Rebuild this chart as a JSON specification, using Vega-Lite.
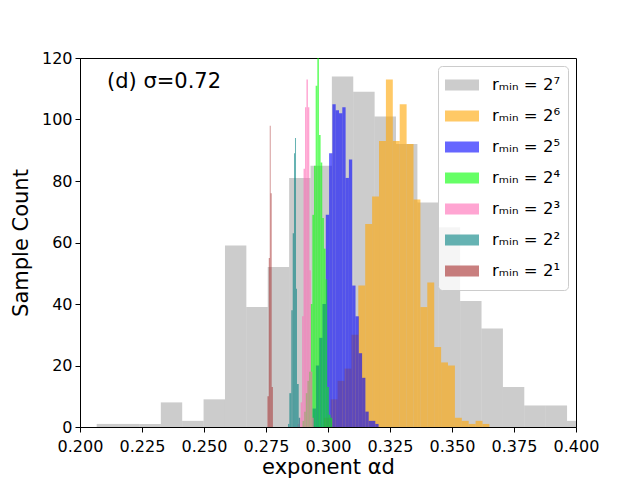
{
  "$schema": "https://vega.github.io/schema/vega-lite/v6.json",
  "description": "Histograms of the exponent alpha_d for several r_min, sigma = 0.72",
  "width": 496,
  "height": 369,
  "autosize": {"type": "none"},
  "padding": {"left": 80, "top": 58, "right": 64, "bottom": 53},
  "view": {"stroke": "black", "strokeWidth": 1},
  "config": {
    "font": "DejaVu Sans",
    "view": {"stroke": "black", "strokeWidth": 1},
    "axis": {
      "grid": false,
      "domainColor": "black",
      "tickColor": "black",
      "labelColor": "black",
      "titleColor": "black",
      "labelFontSize": 16,
      "titleFontSize": 21,
      "titleFontWeight": "normal",
      "tickSize": 5,
      "labelPadding": 3,
      "labelOverlap": false,
      "labelFlush": false,
      "offset": 0
    }
  },
  "data": {
    "values": [
      {"s": "rₘᵢₙ = 2⁷", "lo": 0.20673, "hi": 0.21535, "n": 1},
      {"s": "rₘᵢₙ = 2⁷", "lo": 0.21535, "hi": 0.22397, "n": 1},
      {"s": "rₘᵢₙ = 2⁷", "lo": 0.22397, "hi": 0.23259, "n": 1},
      {"s": "rₘᵢₙ = 2⁷", "lo": 0.23259, "hi": 0.24121, "n": 8},
      {"s": "rₘᵢₙ = 2⁷", "lo": 0.24121, "hi": 0.24983, "n": 2},
      {"s": "rₘᵢₙ = 2⁷", "lo": 0.24983, "hi": 0.25846, "n": 9},
      {"s": "rₘᵢₙ = 2⁷", "lo": 0.25846, "hi": 0.26708, "n": 59},
      {"s": "rₘᵢₙ = 2⁷", "lo": 0.26708, "hi": 0.27570, "n": 39},
      {"s": "rₘᵢₙ = 2⁷", "lo": 0.27570, "hi": 0.28432, "n": 52},
      {"s": "rₘᵢₙ = 2⁷", "lo": 0.28432, "hi": 0.29294, "n": 81},
      {"s": "rₘᵢₙ = 2⁷", "lo": 0.29294, "hi": 0.30156, "n": 85},
      {"s": "rₘᵢₙ = 2⁷", "lo": 0.30156, "hi": 0.31018, "n": 114},
      {"s": "rₘᵢₙ = 2⁷", "lo": 0.31018, "hi": 0.31880, "n": 109},
      {"s": "rₘᵢₙ = 2⁷", "lo": 0.31880, "hi": 0.32742, "n": 101},
      {"s": "rₘᵢₙ = 2⁷", "lo": 0.32742, "hi": 0.33605, "n": 92},
      {"s": "rₘᵢₙ = 2⁷", "lo": 0.33605, "hi": 0.34467, "n": 73},
      {"s": "rₘᵢₙ = 2⁷", "lo": 0.34467, "hi": 0.35329, "n": 65},
      {"s": "rₘᵢₙ = 2⁷", "lo": 0.35329, "hi": 0.36191, "n": 41},
      {"s": "rₘᵢₙ = 2⁷", "lo": 0.36191, "hi": 0.37053, "n": 32},
      {"s": "rₘᵢₙ = 2⁷", "lo": 0.37053, "hi": 0.37915, "n": 13},
      {"s": "rₘᵢₙ = 2⁷", "lo": 0.37915, "hi": 0.38777, "n": 7},
      {"s": "rₘᵢₙ = 2⁷", "lo": 0.38777, "hi": 0.39639, "n": 7},
      {"s": "rₘᵢₙ = 2⁷", "lo": 0.39639, "hi": 0.40501, "n": 2},

      {"s": "rₘᵢₙ = 2⁶", "lo": 0.29831, "hi": 0.30109, "n": 3},
      {"s": "rₘᵢₙ = 2⁶", "lo": 0.30109, "hi": 0.30387, "n": 9},
      {"s": "rₘᵢₙ = 2⁶", "lo": 0.30387, "hi": 0.30666, "n": 15},
      {"s": "rₘᵢₙ = 2⁶", "lo": 0.30666, "hi": 0.30944, "n": 19},
      {"s": "rₘᵢₙ = 2⁶", "lo": 0.30944, "hi": 0.31222, "n": 30},
      {"s": "rₘᵢₙ = 2⁶", "lo": 0.31222, "hi": 0.31500, "n": 46},
      {"s": "rₘᵢₙ = 2⁶", "lo": 0.31500, "hi": 0.31779, "n": 66},
      {"s": "rₘᵢₙ = 2⁶", "lo": 0.31779, "hi": 0.32057, "n": 75},
      {"s": "rₘᵢₙ = 2⁶", "lo": 0.32057, "hi": 0.32335, "n": 93},
      {"s": "rₘᵢₙ = 2⁶", "lo": 0.32335, "hi": 0.32613, "n": 113},
      {"s": "rₘᵢₙ = 2⁶", "lo": 0.32613, "hi": 0.32891, "n": 93},
      {"s": "rₘᵢₙ = 2⁶", "lo": 0.32891, "hi": 0.33170, "n": 105},
      {"s": "rₘᵢₙ = 2⁶", "lo": 0.33170, "hi": 0.33448, "n": 92},
      {"s": "rₘᵢₙ = 2⁶", "lo": 0.33448, "hi": 0.33726, "n": 74},
      {"s": "rₘᵢₙ = 2⁶", "lo": 0.33726, "hi": 0.34004, "n": 39},
      {"s": "rₘᵢₙ = 2⁶", "lo": 0.34004, "hi": 0.34283, "n": 47},
      {"s": "rₘᵢₙ = 2⁶", "lo": 0.34283, "hi": 0.34561, "n": 26},
      {"s": "rₘᵢₙ = 2⁶", "lo": 0.34561, "hi": 0.34839, "n": 21},
      {"s": "rₘᵢₙ = 2⁶", "lo": 0.34839, "hi": 0.35117, "n": 20},
      {"s": "rₘᵢₙ = 2⁶", "lo": 0.35117, "hi": 0.35396, "n": 3},
      {"s": "rₘᵢₙ = 2⁶", "lo": 0.35396, "hi": 0.35674, "n": 2},
      {"s": "rₘᵢₙ = 2⁶", "lo": 0.35674, "hi": 0.35952, "n": 1},
      {"s": "rₘᵢₙ = 2⁶", "lo": 0.35952, "hi": 0.36230, "n": 2},
      {"s": "rₘᵢₙ = 2⁶", "lo": 0.36230, "hi": 0.36508, "n": 1},

      {"s": "rₘᵢₙ = 2⁵", "lo": 0.29379, "hi": 0.29512, "n": 6},
      {"s": "rₘᵢₙ = 2⁵", "lo": 0.29512, "hi": 0.29645, "n": 20},
      {"s": "rₘᵢₙ = 2⁵", "lo": 0.29645, "hi": 0.29778, "n": 29},
      {"s": "rₘᵢₙ = 2⁵", "lo": 0.29778, "hi": 0.29911, "n": 40},
      {"s": "rₘᵢₙ = 2⁵", "lo": 0.29911, "hi": 0.30044, "n": 69},
      {"s": "rₘᵢₙ = 2⁵", "lo": 0.30044, "hi": 0.30177, "n": 89},
      {"s": "rₘᵢₙ = 2⁵", "lo": 0.30177, "hi": 0.30310, "n": 105},
      {"s": "rₘᵢₙ = 2⁵", "lo": 0.30310, "hi": 0.30444, "n": 103},
      {"s": "rₘᵢₙ = 2⁵", "lo": 0.30444, "hi": 0.30577, "n": 102},
      {"s": "rₘᵢₙ = 2⁵", "lo": 0.30577, "hi": 0.30710, "n": 104},
      {"s": "rₘᵢₙ = 2⁵", "lo": 0.30710, "hi": 0.30843, "n": 81},
      {"s": "rₘᵢₙ = 2⁵", "lo": 0.30843, "hi": 0.30976, "n": 87},
      {"s": "rₘᵢₙ = 2⁵", "lo": 0.30976, "hi": 0.31109, "n": 46},
      {"s": "rₘᵢₙ = 2⁵", "lo": 0.31109, "hi": 0.31242, "n": 36},
      {"s": "rₘᵢₙ = 2⁵", "lo": 0.31242, "hi": 0.31375, "n": 24},
      {"s": "rₘᵢₙ = 2⁵", "lo": 0.31375, "hi": 0.31508, "n": 16},
      {"s": "rₘᵢₙ = 2⁵", "lo": 0.31508, "hi": 0.31641, "n": 5},
      {"s": "rₘᵢₙ = 2⁵", "lo": 0.31641, "hi": 0.31774, "n": 2},
      {"s": "rₘᵢₙ = 2⁵", "lo": 0.31774, "hi": 0.31907, "n": 2},
      {"s": "rₘᵢₙ = 2⁵", "lo": 0.31907, "hi": 0.32040, "n": 1},

      {"s": "rₘᵢₙ = 2⁴", "lo": 0.28970, "hi": 0.29037, "n": 2},
      {"s": "rₘᵢₙ = 2⁴", "lo": 0.29037, "hi": 0.29103, "n": 5},
      {"s": "rₘᵢₙ = 2⁴", "lo": 0.29103, "hi": 0.29170, "n": 11},
      {"s": "rₘᵢₙ = 2⁴", "lo": 0.29170, "hi": 0.29236, "n": 15},
      {"s": "rₘᵢₙ = 2⁴", "lo": 0.29236, "hi": 0.29303, "n": 18},
      {"s": "rₘᵢₙ = 2⁴", "lo": 0.29303, "hi": 0.29369, "n": 40},
      {"s": "rₘᵢₙ = 2⁴", "lo": 0.29369, "hi": 0.29436, "n": 69},
      {"s": "rₘᵢₙ = 2⁴", "lo": 0.29436, "hi": 0.29502, "n": 85},
      {"s": "rₘᵢₙ = 2⁴", "lo": 0.29502, "hi": 0.29569, "n": 111},
      {"s": "rₘᵢₙ = 2⁴", "lo": 0.29569, "hi": 0.29635, "n": 124},
      {"s": "rₘᵢₙ = 2⁴", "lo": 0.29635, "hi": 0.29702, "n": 95},
      {"s": "rₘᵢₙ = 2⁴", "lo": 0.29702, "hi": 0.29768, "n": 86},
      {"s": "rₘᵢₙ = 2⁴", "lo": 0.29768, "hi": 0.29835, "n": 68},
      {"s": "rₘᵢₙ = 2⁴", "lo": 0.29835, "hi": 0.29901, "n": 58},
      {"s": "rₘᵢₙ = 2⁴", "lo": 0.29901, "hi": 0.29968, "n": 48},
      {"s": "rₘᵢₙ = 2⁴", "lo": 0.29968, "hi": 0.30034, "n": 13},
      {"s": "rₘᵢₙ = 2⁴", "lo": 0.30034, "hi": 0.30101, "n": 4},
      {"s": "rₘᵢₙ = 2⁴", "lo": 0.30101, "hi": 0.30167, "n": 3},

      {"s": "rₘᵢₙ = 2³", "lo": 0.28780, "hi": 0.28839, "n": 1},
      {"s": "rₘᵢₙ = 2³", "lo": 0.28839, "hi": 0.28897, "n": 3},
      {"s": "rₘᵢₙ = 2³", "lo": 0.28897, "hi": 0.28956, "n": 8},
      {"s": "rₘᵢₙ = 2³", "lo": 0.28956, "hi": 0.29014, "n": 36},
      {"s": "rₘᵢₙ = 2³", "lo": 0.29014, "hi": 0.29073, "n": 84},
      {"s": "rₘᵢₙ = 2³", "lo": 0.29073, "hi": 0.29131, "n": 104},
      {"s": "rₘᵢₙ = 2³", "lo": 0.29131, "hi": 0.29190, "n": 113},
      {"s": "rₘᵢₙ = 2³", "lo": 0.29190, "hi": 0.29248, "n": 104},
      {"s": "rₘᵢₙ = 2³", "lo": 0.29248, "hi": 0.29307, "n": 51},
      {"s": "rₘᵢₙ = 2³", "lo": 0.29307, "hi": 0.29365, "n": 18},
      {"s": "rₘᵢₙ = 2³", "lo": 0.29365, "hi": 0.29424, "n": 3},

      {"s": "rₘᵢₙ = 2²", "lo": 0.28387, "hi": 0.28440, "n": 1},
      {"s": "rₘᵢₙ = 2²", "lo": 0.28440, "hi": 0.28520, "n": 11},
      {"s": "rₘᵢₙ = 2²", "lo": 0.28520, "hi": 0.28577, "n": 38},
      {"s": "rₘᵢₙ = 2²", "lo": 0.28577, "hi": 0.28629, "n": 63},
      {"s": "rₘᵢₙ = 2²", "lo": 0.28629, "hi": 0.28669, "n": 89},
      {"s": "rₘᵢₙ = 2²", "lo": 0.28669, "hi": 0.28710, "n": 94},
      {"s": "rₘᵢₙ = 2²", "lo": 0.28710, "hi": 0.28750, "n": 45},
      {"s": "rₘᵢₙ = 2²", "lo": 0.28750, "hi": 0.28819, "n": 14},
      {"s": "rₘᵢₙ = 2²", "lo": 0.28819, "hi": 0.28871, "n": 3},

      {"s": "rₘᵢₙ = 2¹", "lo": 0.27560, "hi": 0.27613, "n": 10},
      {"s": "rₘᵢₙ = 2¹", "lo": 0.27613, "hi": 0.27653, "n": 55},
      {"s": "rₘᵢₙ = 2¹", "lo": 0.27653, "hi": 0.27685, "n": 98},
      {"s": "rₘᵢₙ = 2¹", "lo": 0.27685, "hi": 0.27726, "n": 76},
      {"s": "rₘᵢₙ = 2¹", "lo": 0.27726, "hi": 0.27774, "n": 13}
    ]
  },
  "layer": [
    {
      "mark": {"type": "bar", "clip": true, "strokeWidth": 0},
      "encoding": {
        "x": {
          "field": "lo",
          "type": "quantitative",
          "title": "exponent αd",
          "scale": {"domain": [0.2, 0.4], "nice": false, "zero": false, "padding": 0},
          "axis": {"values": [0.2, 0.225, 0.25, 0.275, 0.3, 0.325, 0.35, 0.375, 0.4], "format": ".3f", "labelPadding": 6, "titlePadding": 2}
        },
        "x2": {"field": "hi"},
        "y": {
          "field": "n",
          "type": "quantitative",
          "stack": null,
          "title": "Sample Count",
          "scale": {"domain": [0, 120], "nice": false, "padding": 0},
          "axis": {"values": [0, 20, 40, 60, 80, 100, 120], "titlePadding": 10}
        },
        "y2": {"datum": 0},
        "color": {
          "field": "s",
          "type": "nominal",
          "title": null,
          "scale": {
            "domain": ["rₘᵢₙ = 2⁷", "rₘᵢₙ = 2⁶", "rₘᵢₙ = 2⁵", "rₘᵢₙ = 2⁴", "rₘᵢₙ = 2³", "rₘᵢₙ = 2²", "rₘᵢₙ = 2¹"],
            "range": ["rgba(128,128,128,0.4)", "rgba(255,165,0,0.6)", "rgba(0,0,255,0.6)", "rgba(0,255,0,0.6)", "rgba(255,105,180,0.6)", "rgba(0,128,128,0.6)", "rgba(165,42,42,0.6)"]
          },
          "legend": {
            "orient": "top-right",
            "offset": 8,
            "fillColor": "rgba(255,255,255,0.8)",
            "strokeColor": "#cccccc",
            "cornerRadius": 4,
            "padding": 7,
            "symbolType": "M-1,-0.32H1V0.32H-1Z",
            "symbolSize": 1156,
            "symbolStrokeWidth": 0,
            "symbolOpacity": 1,
            "clipHeight": 24,
            "rowPadding": 7,
            "labelOffset": 13,
            "labelFontSize": 16.5,
            "labelColor": "black",
            "labelLimit": 200
          }
        }
      }
    },
    {
      "data": {"values": [{}]},
      "mark": {"type": "text", "text": "(d) σ=0.72", "align": "left", "baseline": "alphabetic", "fontSize": 21, "color": "black"},
      "encoding": {
        "x": {"datum": 0.2109, "type": "quantitative"},
        "y": {"datum": 110.3, "type": "quantitative"}
      }
    }
  ]
}
